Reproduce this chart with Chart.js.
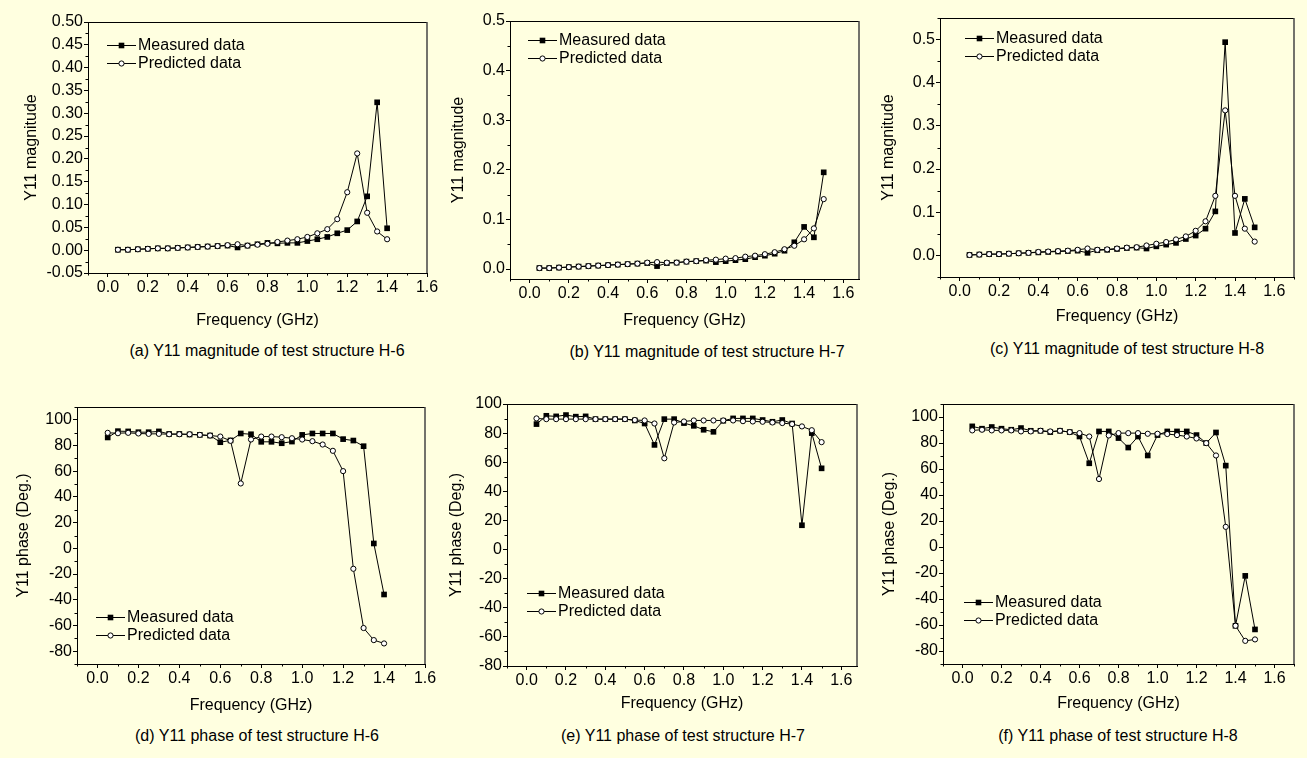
<!DOCTYPE html>
<html>
<head>
<meta charset="utf-8">
<script src="https://cdn.jsdelivr.net/npm/chart.js@4.4.1/dist/chart.umd.min.js"></script>
<style>
html, body { margin: 0; padding: 0; background: #ffffe0; }
#page { position: relative; width: 1307px; height: 758px; overflow: hidden; background: #ffffe0; font-family: "Liberation Sans", Arial, sans-serif; }
canvas { position: absolute; }
.cap { position: absolute; font-size: 16px; line-height: 16px; white-space: nowrap; transform: translate(-50%, -50%); color: #000; }
</style>
</head>
<body>
<div id="page"></div>
<script>
// frequency points (GHz)
const freqH6 = [0.05, 0.10, 0.15, 0.20, 0.25, 0.30, 0.35, 0.40, 0.45, 0.50, 0.55, 0.60, 0.65, 0.70,
  0.75, 0.80, 0.85, 0.90, 0.95, 1.00, 1.05, 1.10, 1.15, 1.20, 1.25, 1.30, 1.35, 1.40];
const freqH78 = [0.05, 0.10, 0.15, 0.20, 0.25, 0.30, 0.35, 0.40, 0.45, 0.50, 0.55, 0.60, 0.65, 0.70,
  0.75, 0.80, 0.85, 0.90, 0.95, 1.00, 1.05, 1.10, 1.15, 1.20, 1.25, 1.30, 1.35, 1.40, 1.45, 1.50];

// Y11 magnitude
const magMeasH6 = [0.001, 0.001, 0.002, 0.003, 0.004, 0.004, 0.005, 0.006, 0.007, 0.008, 0.009, 0.010, 0.006, 0.010,
  0.013, 0.016, 0.015, 0.016, 0.016, 0.020, 0.024, 0.029, 0.037, 0.044, 0.063, 0.118, 0.324, 0.048];
const magPredH6 = [0.001, 0.001, 0.002, 0.003, 0.004, 0.004, 0.005, 0.006, 0.007, 0.008, 0.009, 0.011, 0.013, 0.010,
  0.012, 0.014, 0.018, 0.021, 0.024, 0.029, 0.037, 0.046, 0.068, 0.127, 0.212, 0.082, 0.041, 0.024];
const magMeasH7 = [0.002, 0.002, 0.003, 0.004, 0.005, 0.006, 0.007, 0.008, 0.009, 0.010, 0.011, 0.012, 0.006, 0.012,
  0.013, 0.015, 0.016, 0.017, 0.014, 0.016, 0.018, 0.020, 0.024, 0.027, 0.031, 0.037, 0.054, 0.085, 0.064, 0.195];
const magPredH7 = [0.002, 0.002, 0.003, 0.004, 0.005, 0.006, 0.007, 0.008, 0.009, 0.010, 0.011, 0.013, 0.014, 0.013,
  0.013, 0.015, 0.016, 0.018, 0.019, 0.021, 0.022, 0.025, 0.027, 0.030, 0.034, 0.040, 0.047, 0.060, 0.082, 0.141];
const magMeasH8 = [0.001, 0.002, 0.003, 0.003, 0.004, 0.005, 0.006, 0.007, 0.008, 0.009, 0.010, 0.011, 0.006, 0.012,
  0.013, 0.015, 0.017, 0.018, 0.016, 0.021, 0.025, 0.029, 0.038, 0.046, 0.062, 0.102, 0.494, 0.052, 0.131, 0.065];
const magPredH8 = [0.001, 0.002, 0.003, 0.003, 0.004, 0.005, 0.006, 0.008, 0.009, 0.010, 0.011, 0.013, 0.016, 0.013,
  0.014, 0.016, 0.018, 0.019, 0.023, 0.027, 0.031, 0.037, 0.044, 0.057, 0.079, 0.138, 0.336, 0.138, 0.062, 0.032];

// Y11 phase (deg)
const phaseMeasH6 = [86.3, 91.2, 91.0, 90.4, 90.4, 91.0, 89.0, 89.0, 88.6, 88.3, 87.8, 82.6, 84.0, 89.4,
  88.8, 82.9, 82.9, 81.8, 83.1, 88.3, 89.4, 89.4, 89.4, 85.0, 83.9, 79.5, 3.8, -35.9];
const phasePredH6 = [89.9, 89.6, 89.9, 89.4, 89.1, 89.1, 88.8, 88.8, 88.8, 88.3, 87.8, 87.0, 83.7, 50.5,
  84.7, 87.0, 87.0, 86.5, 85.7, 84.7, 83.4, 80.8, 75.9, 60.1, -15.9, -62.0, -71.4, -74.0];
const phaseMeasH7 = [86.2, 91.9, 91.5, 92.4, 91.3, 91.5, 89.6, 89.6, 89.6, 89.6, 88.7, 86.6, 71.9, 89.6,
  89.6, 86.9, 85.0, 82.3, 80.9, 88.5, 90.1, 90.1, 90.1, 89.0, 87.8, 89.0, 86.6, 16.7, 80.0, 55.8];
const phasePredH7 = [90.1, 89.6, 89.6, 89.6, 89.6, 89.6, 89.6, 89.6, 89.6, 89.6, 89.0, 88.7, 86.6, 62.7,
  87.3, 88.0, 88.7, 88.7, 88.7, 88.7, 88.7, 88.2, 88.0, 87.8, 87.3, 86.9, 86.2, 84.6, 82.0, 73.8];
const phaseMeasH8 = [92.8, 91.0, 92.3, 91.0, 90.2, 91.5, 89.4, 89.4, 88.4, 89.4, 88.4, 85.0, 64.4, 88.9,
  88.9, 83.8, 76.5, 85.0, 70.4, 86.1, 88.9, 88.9, 88.9, 86.1, 79.9, 88.1, 62.6, -60.6, -22.2, -63.4];
const phasePredH8 = [89.7, 90.2, 89.7, 89.7, 89.7, 88.9, 88.9, 89.4, 88.9, 89.4, 88.4, 87.6, 85.0, 52.3,
  85.8, 87.6, 87.6, 87.6, 87.1, 87.1, 86.9, 86.1, 85.0, 83.5, 79.9, 70.4, 15.5, -60.6, -72.2, -71.1];

// tick values
const freqTicks = [0.0, 0.2, 0.4, 0.6, 0.8, 1.0, 1.2, 1.4, 1.6];
const magTicksH6 = [-0.05, 0.00, 0.05, 0.10, 0.15, 0.20, 0.25, 0.30, 0.35, 0.40, 0.45, 0.50];
const magTicks = [0.0, 0.1, 0.2, 0.3, 0.4, 0.5];
const phaseTicks = [-80, -60, -40, -20, 0, 20, 40, 60, 80, 100];

const seriesNames = ['Measured data', 'Predicted data'];
const FONT = '"Liberation Sans", Arial, sans-serif';

// layout of the six panels (page pixels)
const panels = [
  { cv: [0, 440, 0], box: [88, 22, 427, 273], xt: 320, yt: 32, cap: [267, 351], leg: [107, 45],
    x: freqH6, m: magMeasH6, p: magPredH6, xMax: 1.6, yMin: -0.05, yMax: 0.50, yTicks: magTicksH6, yMinor: 0.025, yDec: 2,
    yTitle: 'Y11 magnitude', caption: '(a) Y11 magnitude of test structure H-6' },
  { cv: [440, 875, 0], box: [510, 21, 859, 279], xt: 320, yt: 459, cap: [707, 352], leg: [528, 40],
    x: freqH78, m: magMeasH7, p: magPredH7, xMax: 1.68, yMin: -0.02, yMax: 0.5, yTicks: magTicks, yMinor: 0.05, yDec: 1,
    yTitle: 'Y11 magnitude', caption: '(b) Y11 magnitude of test structure H-7' },
  { cv: [875, 1307, 0], box: [940, 18, 1294, 277], xt: 316, yt: 889, cap: [1127, 349], leg: [965, 38],
    x: freqH78, m: magMeasH8, p: magPredH8, xMax: 1.7, yMin: -0.05, yMax: 0.55, yTicks: magTicks, yMinor: 0.05, yDec: 1,
    yTitle: 'Y11 magnitude', caption: '(c) Y11 magnitude of test structure H-8' },
  { cv: [0, 440, 380], box: [77, 407, 425, 664], xt: 705, yt: 24, cap: [257, 736], leg: [96, 617],
    x: freqH6, m: phaseMeasH6, p: phasePredH6, xMax: 1.6, yMin: -90, yMax: 110, yTicks: phaseTicks, yMinor: 10, yDec: 0,
    yTitle: 'Y11 phase (Deg.)', caption: '(d) Y11 phase of test structure H-6' },
  { cv: [440, 875, 380], box: [507, 404, 857, 666], xt: 703, yt: 457, cap: [683, 736], leg: [527, 593],
    x: freqH78, m: phaseMeasH7, p: phasePredH7, xMax: 1.68, yMin: -80, yMax: 100, yTicks: phaseTicks, yMinor: 10, yDec: 0,
    yTitle: 'Y11 phase (Deg.)', caption: '(e) Y11 phase of test structure H-7' },
  { cv: [875, 1307, 380], box: [943, 404, 1294, 664], xt: 703, yt: 890, cap: [1118, 736], leg: [964, 602],
    x: freqH78, m: phaseMeasH8, p: phasePredH8, xMax: 1.7, yMin: -90, yMax: 110, yTicks: phaseTicks, yMinor: 10, yDec: 0,
    yTitle: 'Y11 phase (Deg.)', caption: '(f) Y11 phase of test structure H-8' }
];

function minorValues(ticks, step, min, max) {
  const out = [];
  for (let v = ticks[0] - step; v <= max + 1e-9; v += 2 * step) {
    if (v >= min - 1e-9) out.push(v);
  }
  return out;
}

function drawMarker(ctx, kind, x, y) {
  ctx.beginPath();
  if (kind === 'rect') {
    ctx.fillStyle = '#000';
    ctx.fillRect(x - 2.8, y - 2.8, 5.6, 5.6);
  } else {
    ctx.arc(x, y, 2.6, 0, Math.PI * 2);
    ctx.fillStyle = '#fff';
    ctx.fill();
    ctx.lineWidth = 1;
    ctx.strokeStyle = '#000';
    ctx.stroke();
  }
}

// frame, minor ticks and the in-plot legend
const decoPlugin = {
  id: 'deco',
  afterDraw(chart, args, opts) {
    const { ctx, chartArea: a } = chart;
    const xs = chart.scales.x, ys = chart.scales.y;
    ctx.save();
    ctx.strokeStyle = '#000';
    ctx.lineWidth = 1;
    ctx.beginPath();
    ctx.moveTo(a.left, Math.round(a.top) + 0.5);
    ctx.lineTo(a.right, Math.round(a.top) + 0.5);
    ctx.stroke();
    ctx.strokeStyle = '#444';
    ctx.lineWidth = 1.5;
    ctx.beginPath();
    ctx.moveTo(Math.round(a.right), a.top);
    ctx.lineTo(Math.round(a.right), a.bottom);
    ctx.stroke();

    ctx.strokeStyle = '#000';
    ctx.lineWidth = 1;
    ctx.beginPath();
    minorValues(opts.xTicks, opts.xMinor, xs.min, xs.max).forEach(v => {
      const px = Math.round(xs.getPixelForValue(v)) + 0.5;
      ctx.moveTo(px, a.bottom);
      ctx.lineTo(px, a.bottom + 2.5);
    });
    minorValues(opts.yTicks, opts.yMinor, ys.min, ys.max).forEach(v => {
      const py = Math.round(ys.getPixelForValue(v)) + 0.5;
      ctx.moveTo(a.left, py);
      ctx.lineTo(a.left - 2.5, py);
    });
    ctx.stroke();

    const [lx, ly] = opts.legend;
    ctx.font = '16px ' + FONT;
    ctx.textBaseline = 'middle';
    ctx.textAlign = 'left';
    seriesNames.forEach((name, i) => {
      const y = ly + i * 17.5;
      ctx.beginPath();
      ctx.strokeStyle = '#000';
      ctx.lineWidth = 1;
      ctx.moveTo(lx, Math.round(y) + 0.5);
      ctx.lineTo(lx + 29, Math.round(y) + 0.5);
      ctx.stroke();
      drawMarker(ctx, i === 0 ? 'rect' : 'circle', lx + 14.5, Math.round(y) + 0.5);
      ctx.fillStyle = '#000';
      ctx.fillText(name, lx + 31, y + 1);
    });
    ctx.restore();
  }
};

const page = document.getElementById('page');

panels.forEach(p => {
  const left = p.cv[0], right = p.cv[1], top = p.cv[2];
  const bottom = p.xt + 10;
  const w = right - left, h = bottom - top;
  const cv = document.createElement('canvas');
  cv.width = w; cv.height = h;
  cv.style.left = left + 'px'; cv.style.top = top + 'px';
  cv.style.width = w + 'px'; cv.style.height = h + 'px';
  page.appendChild(cv);

  const cap = document.createElement('div');
  cap.className = 'cap';
  cap.style.left = p.cap[0] + 'px';
  cap.style.top = p.cap[1] + 'px';
  cap.textContent = p.caption;
  page.appendChild(cap);

  const pts = vals => p.x.map((f, i) => ({ x: f, y: vals[i] }));
  const tickFont = { family: FONT, size: 16 };

  new Chart(cv, {
    type: 'line',
    data: {
      datasets: [
        { label: seriesNames[1], data: pts(p.p), order: 0, borderColor: '#000', borderWidth: 1,
          pointStyle: 'circle', pointRadius: 2.6, pointBackgroundColor: '#fff', pointBorderColor: '#000',
          pointBorderWidth: 1, tension: 0, fill: false },
        { label: seriesNames[0], data: pts(p.m), order: 1, borderColor: '#000', borderWidth: 1,
          pointStyle: 'rect', pointRadius: 4, pointBackgroundColor: '#000', pointBorderColor: '#000',
          pointBorderWidth: 0, tension: 0, fill: false }
      ]
    },
    options: {
      responsive: false,
      animation: false,
      devicePixelRatio: 1,
      layout: { padding: { left: 0, top: p.box[1] - top, right: right - p.box[2], bottom: 0 } },
      plugins: {
        legend: { display: false },
        tooltip: { enabled: false },
        deco: { legend: [p.leg[0] - left, p.leg[1] - top], xTicks: freqTicks, xMinor: 0.1,
                yTicks: p.yTicks, yMinor: p.yMinor }
      },
      scales: {
        x: {
          type: 'linear', min: -0.1, max: p.xMax,
          afterBuildTicks: s => { s.ticks = freqTicks.map(v => ({ value: v })); },
          afterFit: s => { s.height = bottom - p.box[3]; },
          ticks: { color: '#000', font: tickFont, padding: 1, maxRotation: 0, autoSkip: false,
                   callback: v => v.toFixed(1) },
          grid: { drawOnChartArea: false, drawTicks: true, tickLength: 4, color: '#000', lineWidth: 1 },
          border: { display: true, color: '#000', width: 1 },
          title: { display: true, text: 'Frequency (GHz)', color: '#000', font: tickFont, padding: { top: 0, bottom: 0 } }
        },
        y: {
          type: 'linear', min: p.yMin, max: p.yMax,
          afterBuildTicks: s => { s.ticks = p.yTicks.map(v => ({ value: v })); },
          afterFit: s => { s.width = p.box[0] - left; },
          ticks: { color: '#000', font: tickFont, padding: 1, autoSkip: false,
                   callback: v => v.toFixed(p.yDec) },
          grid: { drawOnChartArea: false, drawTicks: true, tickLength: 4, color: '#000', lineWidth: 1 },
          border: { display: true, color: '#000', width: 1 },
          title: { display: true, text: p.yTitle, color: '#000', font: tickFont,
                   padding: { top: p.yt - left - 9.6, bottom: 0 } }
        }
      }
    },
    plugins: [decoPlugin]
  });
});
</script>
</body>
</html>
